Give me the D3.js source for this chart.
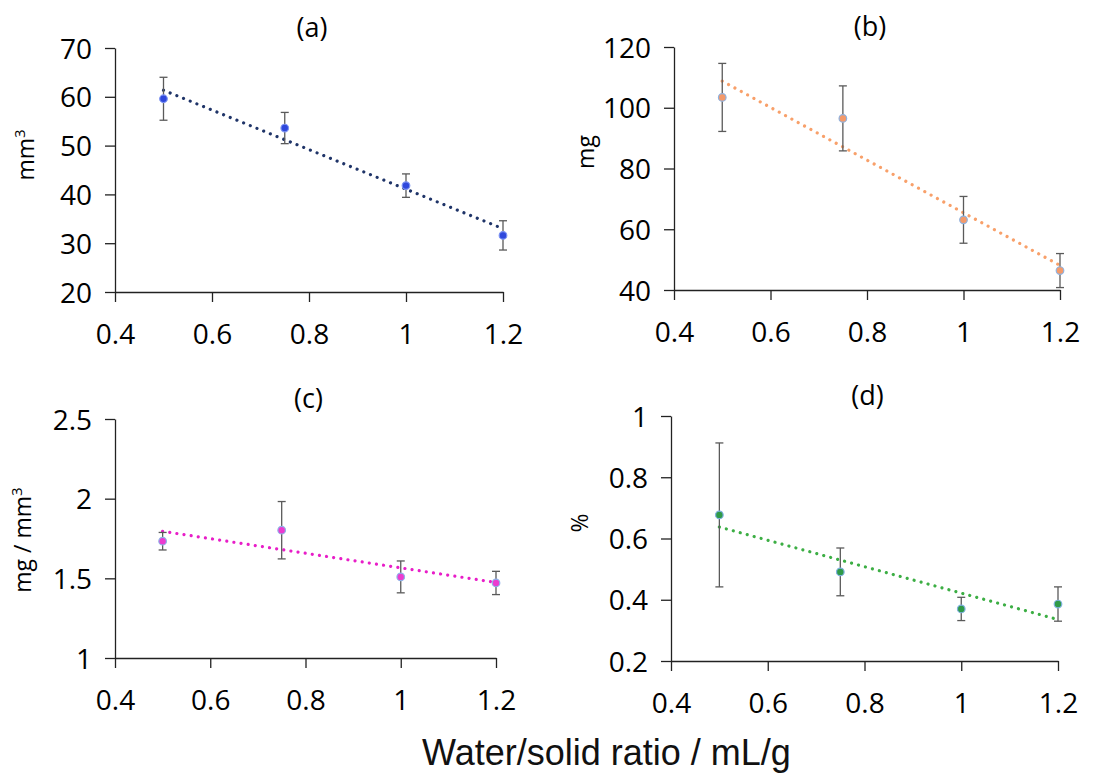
<!DOCTYPE html>
<html>
<head>
<meta charset="utf-8">
<script src="https://cdn.jsdelivr.net/npm/d3@7"></script>
<style>
  body { margin: 0; background: #fff; }
  svg { display: block; }
  .tick text { font-family: "Open Sans", sans-serif; fill: #000; }
</style>
</head>
<body>
<svg></svg>
<script>
// data
const ratio = [0.5, 0.75, 1, 1.2]

const volume = [59.6, 53.6, 41.8, 31.6]
const volumeErr = [4.4, 3.2, 2.4, 3.0]

const mass = [103.4, 96.5, 63.1, 46.4]
const massErr = [11.2, 10.7, 7.7, 5.6]

const density = [1.733, 1.802, 1.509, 1.471]
const densityErr = [0.055, 0.18, 0.1, 0.073]

const porosity = [0.677, 0.491, 0.370, 0.386]
const porosityErr = [0.235, 0.078, 0.038, 0.056]

const xTicks = [0.4, 0.6, 0.8, 1, 1.2]
const xTickLabels = ["0.4", "0.6", "0.8", "1", "1.2"]

const width = 1120
const height = 773

let svg = d3.select("svg")
    .attr("width", width)
    .attr("height", height)

const panels = [
  {title: "(a)", unit: "mm", sup: "3", values: volume, err: volumeErr,
   yDomain: [20, 70], yTicks: [20, 30, 40, 50, 60, 70],
   yLabels: ["20", "30", "40", "50", "60", "70"],
   box: {left: 115, right: 503, top: 48, bottom: 292}, unitPos: [26, 155],
   fill: "#2f48dc", ring: "#7d93f2", line: "#1f3468"},
  {title: "(b)", unit: "mg", sup: "", values: mass, err: massErr,
   yDomain: [40, 120], yTicks: [40, 60, 80, 100, 120],
   yLabels: ["40", "60", "80", "100", "120"],
   box: {left: 674, right: 1060, top: 47, bottom: 290}, unitPos: [586, 152],
   fill: "#f49a6a", ring: "#8fb2e0", line: "#f8a06a"},
  {title: "(c)", unit: "mg / mm", sup: "3", values: density, err: densityErr,
   yDomain: [1, 2.5], yTicks: [1, 1.5, 2, 2.5],
   yLabels: ["1", "1.5", "2", "2.5"],
   box: {left: 115, right: 496, top: 419, bottom: 658}, unitPos: [23, 540],
   fill: "#ec3cd0", ring: "#8fb2e8", line: "#e81ec8"},
  {title: "(d)", unit: "%", sup: "", values: porosity, err: porosityErr,
   yDomain: [0.2, 1], yTicks: [0.2, 0.4, 0.6, 0.8, 1],
   yLabels: ["0.2", "0.4", "0.6", "0.8", "1"],
   box: {left: 671, right: 1058, top: 416, bottom: 661}, unitPos: [580, 523],
   fill: "#2f9a48", ring: "#7fb0e0", line: "#3cae44"}
]

// least squares fit for the dotted trendline
function fit(xs, ys){
    const mx = d3.mean(xs), my = d3.mean(ys)
    const sxy = d3.sum(xs, (x, i) => (x - mx) * (ys[i] - my))
    const sxx = d3.sum(xs, x => (x - mx) * (x - mx))
    const slope = sxy / sxx
    return x => my + slope * (x - mx)
}

panels.forEach(function(p){
    const b = p.box
    const x = d3.scaleLinear().domain([0.4, 1.2]).range([b.left, b.right])
    const y = d3.scaleLinear().domain(p.yDomain).range([b.bottom, b.top])
    const g = svg.append("g")

    // axes
    g.append("g")
        .attr("transform", `translate(0,${b.bottom})`)
        .call(d3.axisBottom(x).tickValues(xTicks)
            .tickFormat((d, i) => xTickLabels[i])
            .tickSize(10).tickSizeOuter(0).tickPadding(22))
    const yAxis = g.append("g")
        .attr("transform", `translate(${b.left},0)`)
        .call(d3.axisLeft(y).tickValues(p.yTicks)
            .tickFormat((d, i) => p.yLabels[i])
            .tickSize(10).tickSizeOuter(0).tickPadding(13))
    g.selectAll(".domain, .tick line")
        .attr("stroke", "#222")
        .attr("stroke-width", 1.3)
    g.selectAll(".tick text")
        .attr("font-size", 28)
    yAxis.selectAll(".tick text").attr("dy", "0.36em")

    // trendline
    const f = fit(ratio, p.values)
    g.append("line")
        .attr("x1", x(0.5)).attr("y1", y(f(0.5)))
        .attr("x2", x(1.2)).attr("y2", y(f(1.2)))
        .attr("stroke", p.line)
        .attr("stroke-width", 3.2)
        .attr("stroke-linecap", "round")
        .attr("stroke-dasharray", "0.01 7.2")

    // error bars
    const eb = g.selectAll(".err")
        .data(ratio)
        .enter()
        .append("g")
        .attr("stroke", "#5a5a5a")
        .attr("stroke-width", 1.3)
    eb.append("line")
        .attr("x1", d => x(d)).attr("x2", d => x(d))
        .attr("y1", (d, i) => y(p.values[i] + p.err[i]))
        .attr("y2", (d, i) => y(p.values[i] - p.err[i]))
    eb.append("line")
        .attr("x1", d => x(d) - 4).attr("x2", d => x(d) + 4)
        .attr("y1", (d, i) => y(p.values[i] + p.err[i]))
        .attr("y2", (d, i) => y(p.values[i] + p.err[i]))
    eb.append("line")
        .attr("x1", d => x(d) - 4).attr("x2", d => x(d) + 4)
        .attr("y1", (d, i) => y(p.values[i] - p.err[i]))
        .attr("y2", (d, i) => y(p.values[i] - p.err[i]))

    // points
    g.selectAll("circle")
        .data(ratio)
        .enter()
        .append("circle")
        .attr("cx", d => x(d))
        .attr("cy", (d, i) => y(p.values[i]))
        .attr("r", 3.8)
        .attr("fill", p.fill)
        .attr("stroke", p.ring)
        .attr("stroke-width", 1.2)

    // panel title
    g.append("text")
        .attr("x", (b.left + b.right) / 2 + 3)
        .attr("y", b.top - 11)
        .attr("text-anchor", "middle")
        .attr("font-family", "Open Sans, sans-serif")
        .attr("font-size", 27)
        .attr("fill", "#000")
        .text(p.title)

    // unit label
    const u = g.append("text")
        .attr("transform", `translate(${p.unitPos[0]},${p.unitPos[1]}) rotate(-90)`)
        .attr("text-anchor", "middle")
        .attr("dy", "0.35em")
        .attr("font-family", "Open Sans, sans-serif")
        .attr("font-size", 23)
        .attr("fill", "#000")
    u.append("tspan").text(p.unit)
    if (p.sup) {
        u.append("tspan").attr("font-size", 15).attr("dy", "-0.6em").text(p.sup)
    }
})

// shared x axis title
svg.append("text")
    .attr("x", 422)
    .attr("y", 765)
    .attr("font-family", "Liberation Sans, Arial, sans-serif")
    .attr("font-size", 36)
    .attr("fill", "#111")
    .text("Water/solid ratio / mL/g")
</script>
</body>
</html>
